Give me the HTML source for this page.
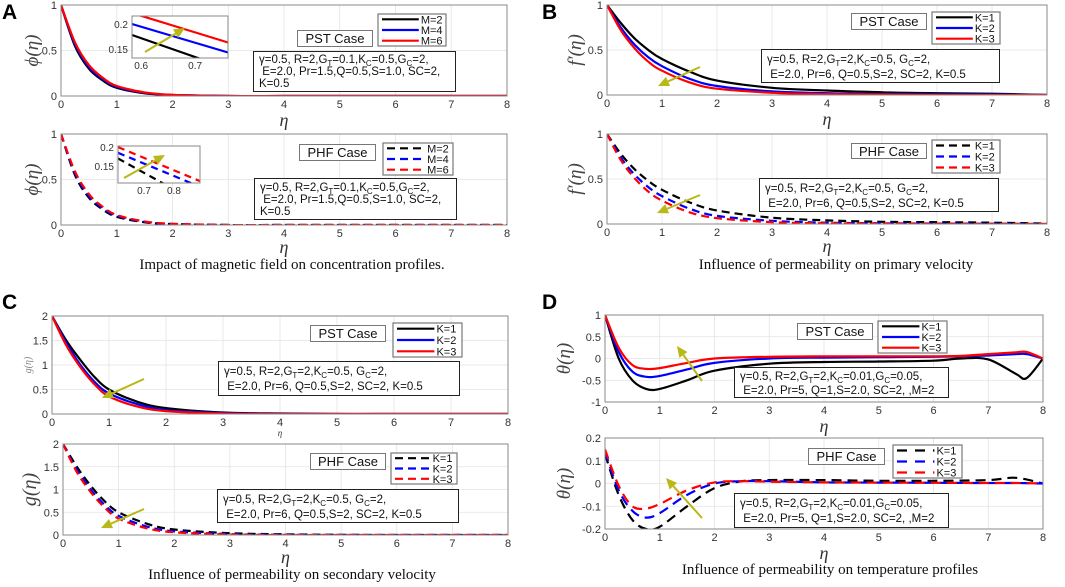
<!DOCTYPE html>
<html><head><meta charset="utf-8">
<style>
html,body{margin:0;padding:0;background:#fff;}
#wrap{position:relative;width:1065px;height:587px;overflow:hidden;font-family:"Liberation Sans",sans-serif;}
svg{position:absolute;left:0;top:0;}
.box{position:absolute;border:1.3px solid #222;background:#fff;box-sizing:border-box;color:#111;font-size:11.5px;line-height:15px;padding:3px 0 0 5px;white-space:nowrap;}
.case{position:absolute;border:1.3px solid #777;background:#fff;box-sizing:border-box;font-size:13px;text-align:center;color:#111;}
.cap{position:absolute;font-family:"Liberation Serif",serif;font-size:15px;color:#111;white-space:nowrap;transform:translateX(-50%);}
.letter{position:absolute;font-weight:bold;font-size:21px;color:#000;}
sub{font-size:8px;vertical-align:-3px;line-height:0;}
</style></head><body>
<div id="wrap">
<svg id="svg" width="1065" height="587"></svg>

<div class="letter" style="left:2px;top:1px">A</div>
<div class="letter" style="left:542px;top:1px">B</div>
<div class="letter" style="left:2px;top:291px">C</div>
<div class="letter" style="left:542px;top:291px">D</div>

<!-- A -->
<div class="case" style="left:297px;top:30px;width:76px;height:17px">PST Case</div>
<div class="box" style="left:253px;top:51px;width:203px;height:41px;line-height:12px;padding-top:2px">γ=0.5, R=2,G<sub>T</sub>=0.1,K<sub>C</sub>=0.5,G<sub>C</sub>=2,<br>&nbsp;E=2.0, Pr=1.5,Q=0.5,S=1.0, SC=2,<br>K=0.5</div>
<div class="case" style="left:299px;top:144px;width:77px;height:17px">PHF Case</div>
<div class="box" style="left:254px;top:178px;width:203px;height:42px;line-height:12px;padding-top:3px">γ=0.5, R=2,G<sub>T</sub>=0.1,K<sub>C</sub>=0.5,G<sub>C</sub>=2,<br>&nbsp;E=2.0, Pr=1.5,Q=0.5,S=1.0, SC=2,<br>K=0.5</div>
<div class="cap" style="left:292px;top:257px">Impact of magnetic field on concentration profiles.</div>

<!-- B -->
<div class="case" style="left:851px;top:13px;width:76px;height:17px">PST Case</div>
<div class="box" style="left:761px;top:49px;width:239px;height:34px">γ=0.5, R=2,G<sub>T</sub>=2,K<sub>C</sub>=0.5, G<sub>C</sub>=2,<br>&nbsp;E=2.0, Pr=6, Q=0.5,S=2, SC=2, K=0.5</div>
<div class="case" style="left:851px;top:143px;width:76px;height:16px">PHF Case</div>
<div class="box" style="left:759px;top:178px;width:240px;height:34px">γ=0.5, R=2,G<sub>T</sub>=2,K<sub>C</sub>=0.5, G<sub>C</sub>=2,<br>&nbsp;E=2.0, Pr=6, Q=0.5,S=2, SC=2, K=0.5</div>
<div class="cap" style="left:836px;top:257px">Influence of permeability on primary velocity</div>

<!-- C -->
<div class="case" style="left:310px;top:325px;width:76px;height:17px">PST Case</div>
<div class="box" style="left:218px;top:361px;width:242px;height:35px">γ=0.5, R=2,G<sub>T</sub>=2,K<sub>C</sub>=0.5, G<sub>C</sub>=2,<br>&nbsp;E=2.0, Pr=6, Q=0.5,S=2, SC=2, K=0.5</div>
<div class="case" style="left:310px;top:453px;width:76px;height:17px">PHF Case</div>
<div class="box" style="left:217px;top:489px;width:242px;height:34px">γ=0.5, R=2,G<sub>T</sub>=2,K<sub>C</sub>=0.5, G<sub>C</sub>=2,<br>&nbsp;E=2.0, Pr=6, Q=0.5,S=2, SC=2, K=0.5</div>
<div class="cap" style="left:292px;top:567px">Influence of permeability on secondary velocity</div>

<!-- D -->
<div class="case" style="left:797px;top:323px;width:76px;height:17px">PST Case</div>
<div class="box" style="left:734px;top:367px;width:215px;height:31px;line-height:14px;padding-top:2px">γ=0.5, R=2,G<sub>T</sub>=2,K<sub>C</sub>=0.01,G<sub>C</sub>=0.05,<br>&nbsp;E=2.0, Pr=5, Q=1,S=2.0, SC=2, ,M=2</div>
<div class="case" style="left:808px;top:448px;width:77px;height:17px">PHF Case</div>
<div class="box" style="left:734px;top:493px;width:215px;height:35px">γ=0.5, R=2,G<sub>T</sub>=2,K<sub>C</sub>=0.01,G<sub>C</sub>=0.05,<br>&nbsp;E=2.0, Pr=5, Q=1,S=2.0, SC=2, ,M=2</div>
<div class="cap" style="left:830px;top:562px">Influence of permeability on temperature profiles</div>
</div>

<script>
// ---------- data ----------
const etaA = [0,0.25,0.5,0.75,1,1.5,2,3,4,5,6,7,8];
const phiM2 = [1,0.55,0.3,0.17,0.09,0.03,0.01,0,0,0,0,0,0];
const phiM4 = [1,0.57,0.32,0.185,0.1,0.035,0.011,0,0,0,0,0,0];
const phiM6 = [1,0.59,0.34,0.2,0.11,0.04,0.013,0,0,0,0,0,0];
const insetTopX = [0.583,0.761];
const insetTopM2 = [0.178,0.111];
const insetTopM4 = [0.2,0.143];
const insetTopM6 = [0.222,0.163];
const insetBotX = [0.613,0.887];
const insetBotM2 = [0.17,0.05];
const insetBotM4 = [0.185,0.095];
const insetBotM6 = [0.2,0.11];

const etaB = [0,0.25,0.5,0.75,1,1.5,2,3,4,5,6,7,8];
const fK1 = [1,0.8,0.63,0.5,0.4,0.26,0.16,0.08,0.05,0.03,0.02,0.015,0];
const fK2 = [1,0.75,0.56,0.42,0.32,0.18,0.1,0.04,0.02,0.01,0.008,0.005,0];
const fK3 = [1,0.72,0.52,0.37,0.27,0.14,0.07,0.025,0.01,0.005,0.002,0,0];
const fPK1 = [1,0.78,0.61,0.48,0.38,0.24,0.15,0.07,0.04,0.025,0.02,0.015,0.005];
const fPK2 = [1,0.74,0.55,0.41,0.31,0.17,0.09,0.035,0.015,0.008,0.005,0.003,0];
const fPK3 = [1,0.71,0.51,0.36,0.26,0.13,0.065,0.02,0.008,0.004,0.002,0,0];

const etaC = [0,0.25,0.5,0.75,1,1.5,2,3,4,5,6,7,8];
const gK1 = [2,1.5,1.1,0.75,0.5,0.25,0.12,0.03,0.01,0,0,0,0];
const gK2 = [2,1.45,1.0,0.65,0.42,0.2,0.08,0.02,0.005,0,0,0,0];
const gK3 = [2,1.4,0.95,0.6,0.36,0.15,0.06,0.01,0,0,0,0,0];
const gPK1 = [2,1.5,1.08,0.74,0.5,0.25,0.12,0.04,0.015,0.005,0,0,0];
const gPK2 = [2,1.43,1.0,0.66,0.42,0.19,0.08,0.02,0.005,0,0,0,0];
const gPK3 = [2,1.38,0.94,0.6,0.36,0.15,0.06,0.01,0,0,0,0,0];

const etaD = [0,0.25,0.5,0.75,1,1.5,2,3,4,5,6,6.5,7,7.5,7.7,8];
const tK1 = [1,0.0,-0.5,-0.7,-0.7,-0.5,-0.28,-0.12,-0.08,-0.07,-0.05,0,-0.02,-0.35,-0.45,0];
const tK2 = [1,0.15,-0.3,-0.42,-0.4,-0.25,-0.1,0,0.02,0.03,0.04,0.05,0.07,0.1,0.1,0];
const tK3 = [1,0.25,-0.15,-0.24,-0.22,-0.1,0,0.04,0.05,0.05,0.05,0.06,0.1,0.14,0.15,0];
const etaDP = [0,0.25,0.5,0.75,1,1.5,2,2.5,3,4,5,6,7,7.5,8];
const tPK1 = [0.13,-0.05,-0.16,-0.2,-0.19,-0.1,-0.02,0.01,0.015,0.015,0.012,0.012,0.015,0.025,0];
const tPK2 = [0.14,-0.03,-0.12,-0.15,-0.13,-0.05,0,0.01,0.01,0.005,0.004,0.003,0.002,0.002,0];
const tPK3 = [0.15,-0.01,-0.1,-0.11,-0.09,-0.03,0.005,0.01,0.008,0.005,0.004,0.003,0.002,0.002,0];

const xTicks = [0,1,2,3,4,5,6,7,8];

// ---------- drawing ----------
const NS = "http://www.w3.org/2000/svg";
const svg = document.getElementById('svg');
const defs = document.createElementNS(NS,'defs');
svg.appendChild(defs);
let clipId = 0;
function mk(tag, attrs, parent){
  const e = document.createElementNS(NS, tag);
  for (const k in attrs) e.setAttribute(k, attrs[k]);
  (parent||svg).appendChild(e);
  return e;
}
function smoothPath(px){
  let d = "M" + px[0][0].toFixed(1) + "," + px[0][1].toFixed(1);
  for (let i=0;i<px.length-1;i++){
    const p0 = px[Math.max(0,i-1)], p1 = px[i], p2 = px[i+1], p3 = px[Math.min(px.length-1,i+2)];
    const c1x = p1[0]+(p2[0]-p0[0])/6, c1y = p1[1]+(p2[1]-p0[1])/6;
    const c2x = p2[0]-(p3[0]-p1[0])/6, c2y = p2[1]-(p3[1]-p1[1])/6;
    d += " C"+c1x.toFixed(1)+","+c1y.toFixed(1)+" "+c2x.toFixed(1)+","+c2y.toFixed(1)+" "+p2[0].toFixed(1)+","+p2[1].toFixed(1);
  }
  return d;
}
function axes(cfg){
  const g = mk('g', {});
  
  
  const sx = v => cfg.x0 + (v - cfg.xmin)/(cfg.xmax-cfg.xmin)*(cfg.x1-cfg.x0);
  const sy = v => cfg.y0 + (cfg.ymax - v)/(cfg.ymax-cfg.ymin)*(cfg.y1-cfg.y0);
  const fs = cfg.tickSize || 11;
  mk('rect', {x:cfg.x0,y:cfg.y0,width:cfg.x1-cfg.x0,height:cfg.y1-cfg.y0,fill:'#fff'}, g);
  cfg.xt.forEach(t=>{
    if (!cfg.noGrid){
      const gl = mk('line',{x1:sx(t),x2:sx(t),y1:cfg.y0,y2:cfg.y1,stroke:'#e3e3e3','stroke-width':0.8},g);
      
      
    }
    const tl = mk('text',{x:sx(t),y:cfg.y1+fs+1,'font-size':fs,'text-anchor':'middle',fill:'#333','font-family':'Liberation Sans, sans-serif'},g);
    tl.textContent = t;
    
    
  });
  cfg.yt.forEach((t,i)=>{
    if (!cfg.noGrid){
      const gl = mk('line',{x1:cfg.x0,x2:cfg.x1,y1:sy(t),y2:sy(t),stroke:'#e3e3e3','stroke-width':0.8},g);
      
      
    }
    const tl = mk('text',{x:cfg.x0-4,y:sy(t)+4,'font-size':fs,'text-anchor':'end',fill:'#333','font-family':'Liberation Sans, sans-serif'},g);
    tl.textContent = t;
    
    
  });
  const id = 'clip' + (clipId++);
  const cp = mk('clipPath',{id:id},defs);
  mk('rect',{x:cfg.x0,y:cfg.y0,width:cfg.x1-cfg.x0,height:cfg.y1-cfg.y0},cp);
  const lines = mk('g',{'clip-path':'url(#'+id+')'},g);
  
  
  const fr = mk('rect',{x:cfg.x0,y:cfg.y0,width:cfg.x1-cfg.x0,height:cfg.y1-cfg.y0,fill:'none',stroke:'#888','stroke-width':1},g);
  
  
  if (cfg.xlabel){
    const xl = mk('text',{x:(cfg.x0+cfg.x1)/2,y:cfg.y1+cfg.xlabelDy,'font-size':cfg.xlabelSize||18,'font-style':'italic','text-anchor':'middle',fill:'#333','font-family':'Liberation Serif, serif'},g);
    xl.textContent = 'η';
    
    
  }
  if (cfg.ylabel){
    const yl = mk('text',{x:0,y:0,'font-size':cfg.ylabelSize||19,'font-style':'italic','text-anchor':'middle',fill:cfg.ylabelColor||'#444','font-family':'Liberation Serif, serif',transform:'translate('+cfg.ylabelX+','+((cfg.y0+cfg.y1)/2)+') rotate(-90)'},g);
    yl.textContent = cfg.ylabel;
    
    
  }
  cfg.g = lines; cfg.sx = sx; cfg.sy = sy;
  return cfg;
}
function series(ax, xs, ys, color, dash, name){
  const px = xs.map((x,i)=>[ax.sx(x), ax.sy(ys[i])]);
  const p = mk('path',{d:smoothPath(px),fill:'none',stroke:color,'stroke-width':2.2,'stroke-dasharray':dash||'none','stroke-linejoin':'round'},ax.g);
  
  
}
function legend(x,y,w,h,labels,dash,name){
  const g = mk('g',{});
  
  
  mk('rect',{x:x,y:y,width:w,height:h,fill:'#fff',stroke:'#777','stroke-width':1.2},g);
  const cols=['#000','#0000ff','#ff0000'];
  labels.forEach((l,i)=>{
    const yy = y + h*(i+0.5)/3;
    const ln = mk('line',{x1:x+4,x2:x+w*0.6,y1:yy,y2:yy,stroke:cols[i],'stroke-width':2.2,'stroke-dasharray':dash||'none'},g);
    
    
    const t = mk('text',{x:x+w*0.63,y:yy+4,'font-size':11,fill:'#111','font-family':'Liberation Sans, sans-serif'},g);
    t.textContent = l;
    
    
  });
}
function arrow(x1,y1,x2,y2,name){
  const g = mk('g',{});
  
  
  const a = Math.atan2(y2-y1,x2-x1), L=11, W=5;
  const bx = x2-L*Math.cos(a), by = y2-L*Math.sin(a);
  mk('line',{x1:x1,y1:y1,x2:bx,y2:by,stroke:'#b8b818','stroke-width':2},g);
  mk('polygon',{points:[x2,y2,bx+W*Math.sin(a),by-W*Math.cos(a),bx-W*Math.sin(a),by+W*Math.cos(a)].join(','),fill:'#b8b818'},g);
}
const C = ['#000','#0000ff','#ff0000'];
const DASH = '8,5';

// A top
const aT = axes({name:'plot-a-pst',x0:61,x1:507,y0:5,y1:96,xmin:0,xmax:8,ymin:0,ymax:1,xt:xTicks,yt:[0,0.5,1],ylabel:'ϕ(η)',ylabelX:38,xlabel:true,xlabelDy:30});
series(aT,etaA,phiM2,C[0],null,'line-m2-pst');
series(aT,etaA,phiM4,C[1],null,'line-m4-pst');
series(aT,etaA,phiM6,C[2],null,'line-m6-pst');
// A bottom
const aB = axes({name:'plot-a-phf',x0:61,x1:507,y0:134,y1:225,xmin:0,xmax:8,ymin:0,ymax:1,xt:xTicks,yt:[0,0.5,1],ylabel:'ϕ(η)',ylabelX:38,xlabel:true,xlabelDy:28});
series(aB,etaA,phiM2,C[0],DASH,'line-m2-phf');
series(aB,etaA,phiM4,C[1],DASH,'line-m4-phf');
series(aB,etaA,phiM6,C[2],DASH,'line-m6-phf');
// insets
const iT = axes({name:'inset-a-pst',x0:132,x1:228,y0:16,y1:58,xmin:0.583,xmax:0.761,ymin:0.132,ymax:0.216,xt:[0.6,0.7],yt:[0.15,0.2],noGrid:true,tickSize:10});
series(iT,insetTopX,insetTopM2,C[0],null,'inset-line-m2');
series(iT,insetTopX,insetTopM4,C[1],null,'inset-line-m4');
series(iT,insetTopX,insetTopM6,C[2],null,'inset-line-m6');
const iB = axes({name:'inset-a-phf',x0:118,x1:200,y0:146,y1:183,xmin:0.613,xmax:0.887,ymin:0.105,ymax:0.203,xt:[0.7,0.8],yt:[0.15,0.2],noGrid:true,tickSize:10});
series(iB,insetBotX,insetBotM2,C[0],'7,5','inset-line-m2-phf');
series(iB,insetBotX,insetBotM4,C[1],'7,5','inset-line-m4-phf');
series(iB,insetBotX,insetBotM6,C[2],'7,5','inset-line-m6-phf');
legend(378,14,68,32,['M=2','M=4','M=6'],null,'legend-a-pst');
legend(383,143,70,32,['M=2','M=4','M=6'],'8,5','legend-a-phf');
arrow(145,52,185,28,'trend-arrow-a-pst');
arrow(124,178,165,155,'trend-arrow-a-phf');

// B
const bT = axes({name:'plot-b-pst',x0:607,x1:1047,y0:5,y1:95,xmin:0,xmax:8,ymin:0,ymax:1,xt:xTicks,yt:[0,0.5,1],ylabel:'f′(η)',ylabelX:581,xlabel:true,xlabelDy:30});
series(bT,etaB,fK1,C[0],null,'line-k1-pst-b');
series(bT,etaB,fK2,C[1],null,'line-k2-pst-b');
series(bT,etaB,fK3,C[2],null,'line-k3-pst-b');
const bB = axes({name:'plot-b-phf',x0:607,x1:1047,y0:134,y1:224,xmin:0,xmax:8,ymin:0,ymax:1,xt:xTicks,yt:[0,0.5,1],ylabel:'f′(η)',ylabelX:581,xlabel:true,xlabelDy:28});
series(bB,etaB,fPK1,C[0],DASH,'line-k1-phf-b');
series(bB,etaB,fPK2,C[1],DASH,'line-k2-phf-b');
series(bB,etaB,fPK3,C[2],DASH,'line-k3-phf-b');
legend(932,12,68,32,['K=1','K=2','K=3'],null,'legend-b-pst');
legend(932,140,68,33,['K=1','K=2','K=3'],'8,5','legend-b-phf');
arrow(700,67,658,86,'trend-arrow-b-pst');
arrow(700,195,657,213,'trend-arrow-b-phf');

// C
const cT = axes({name:'plot-c-pst',x0:52,x1:508,y0:316,y1:414,xmin:0,xmax:8,ymin:0,ymax:2,xt:xTicks,yt:[0,0.5,1,1.5,2],ylabel:'g(η)',ylabelX:31,ylabelSize:10,ylabelColor:'#888',xlabel:true,xlabelDy:22,xlabelSize:9});
series(cT,etaC,gK1,C[0],null,'line-k1-pst-c');
series(cT,etaC,gK2,C[1],null,'line-k2-pst-c');
series(cT,etaC,gK3,C[2],null,'line-k3-pst-c');
const cB = axes({name:'plot-c-phf',x0:63,x1:508,y0:444,y1:535,xmin:0,xmax:8,ymin:0,ymax:2,xt:xTicks,yt:[0,0.5,1,1.5,2],ylabel:'g(η)',ylabelX:36,ylabelSize:20,xlabel:true,xlabelDy:28});
series(cB,etaC,gPK1,C[0],DASH,'line-k1-phf-c');
series(cB,etaC,gPK2,C[1],DASH,'line-k2-phf-c');
series(cB,etaC,gPK3,C[2],DASH,'line-k3-phf-c');
legend(393,323,69,34,['K=1','K=2','K=3'],null,'legend-c-pst');
legend(391,453,66,31,['K=1','K=2','K=3'],'8,5','legend-c-phf');
arrow(144,379,102,398,'trend-arrow-c-pst');
arrow(144,509,101,528,'trend-arrow-c-phf');

// D
const dT = axes({name:'plot-d-pst',x0:605,x1:1043,y0:315,y1:402,xmin:0,xmax:8,ymin:-1,ymax:1,xt:xTicks,yt:[-1,-0.5,0,0.5,1],ylabel:'θ(η)',ylabelX:570,xlabel:true,xlabelDy:30});
series(dT,etaD,tK1,C[0],null,'line-k1-pst-d');
series(dT,etaD,tK2,C[1],null,'line-k2-pst-d');
series(dT,etaD,tK3,C[2],null,'line-k3-pst-d');
const dB = axes({name:'plot-d-phf',x0:605,x1:1043,y0:438,y1:529,xmin:0,xmax:8,ymin:-0.2,ymax:0.2,xt:xTicks,yt:[-0.2,-0.1,0,0.1,0.2],ylabel:'θ(η)',ylabelX:570,xlabel:true,xlabelDy:30});
series(dB,etaDP,tPK1,C[0],'10,6','line-k1-phf-d');
series(dB,etaDP,tPK2,C[1],'10,6','line-k2-phf-d');
series(dB,etaDP,tPK3,C[2],'10,6','line-k3-phf-d');
legend(878,321,69,32,['K=1','K=2','K=3'],null,'legend-d-pst');
legend(893,445,69,33,['K=1','K=2','K=3'],'10,8','legend-d-phf');
arrow(702,381,677,346,'trend-arrow-d-pst');
arrow(702,518,666,478,'trend-arrow-d-phf');
</script>
</body></html>
